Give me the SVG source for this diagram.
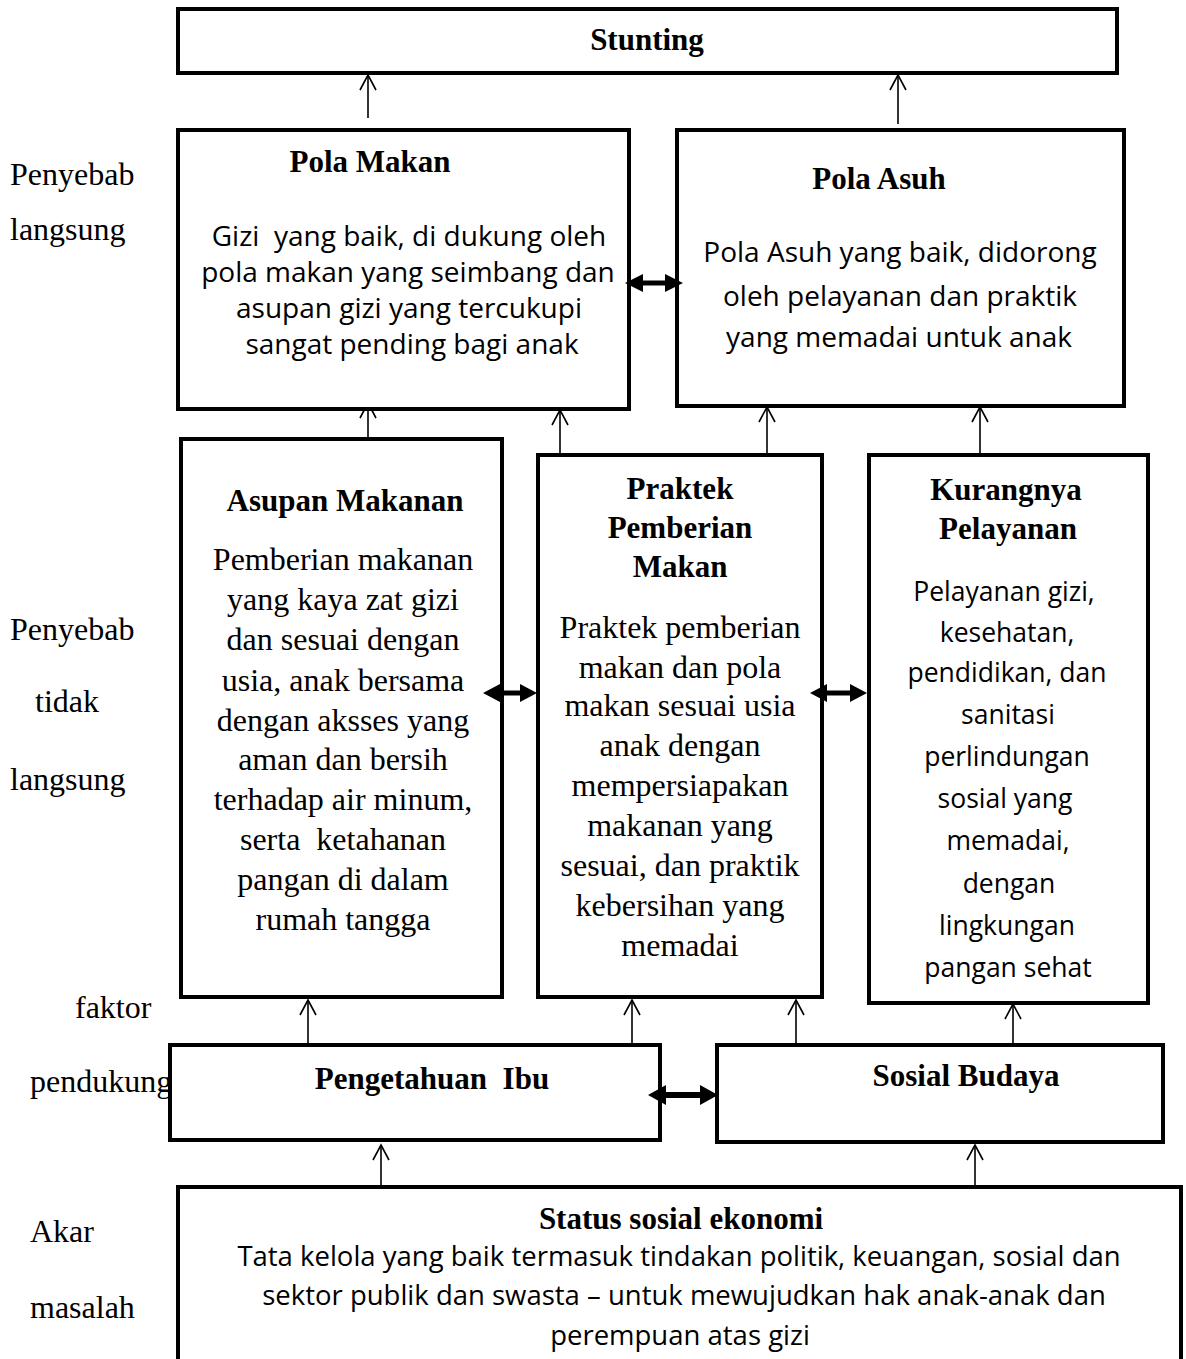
<svg xmlns="http://www.w3.org/2000/svg" width="1186" height="1359" viewBox="0 0 1186 1359">
<style>
.box{fill:#fff;stroke:#000;stroke-width:4}
.t{font-family:"Liberation Serif","Times New Roman",serif;font-weight:bold;font-size:31px;text-anchor:middle;fill:#000}
.s{font-family:"Liberation Serif","Times New Roman",serif;font-size:32px;text-anchor:middle;fill:#000}
.l{font-family:"Liberation Serif","Times New Roman",serif;font-size:32px;fill:#000}
.c{font-family:"Open Sans","Noto Sans",sans-serif;font-size:28px;text-anchor:middle;fill:#000}
.pm{font-size:28px}
.kp{font-size:26.5px}
.st{font-size:27.5px}
.thin{stroke:#000;stroke-width:1.6;fill:none;marker-end:url(#open)}
.dbl{fill:#000;stroke:none}
</style>
<defs>
<marker id="open" viewBox="-18 -10 20 20" markerWidth="20" markerHeight="20" refX="0" refY="0" orient="auto" markerUnits="userSpaceOnUse">
<path d="M-15,-8 L0,0 L-15,8" fill="none" stroke="#000" stroke-width="1.6"/>
</marker>
</defs>
<rect width="1186" height="1359" fill="#fff"/>

<g id="labels">
<text class="l" x="10" y="185">Penyebab</text>
<text class="l" x="10" y="240">langsung</text>
<text class="l" x="10" y="640">Penyebab</text>
<text class="l" x="35" y="712">tidak</text>
<text class="l" x="10" y="790">langsung</text>
<text class="l" x="75" y="1018">faktor</text>
<text class="l" x="30" y="1092">pendukung</text>
<text class="l" x="30" y="1242">Akar</text>
<text class="l" x="30" y="1318">masalah</text>
</g>

<g id="connectors">
<line class="thin" x1="368" y1="118" x2="368" y2="75"/>
<line class="thin" x1="898" y1="124" x2="898" y2="75"/>
<line class="thin" x1="368" y1="446" x2="368" y2="403"/>
<line class="thin" x1="560" y1="455" x2="560" y2="410"/>
<line class="thin" x1="767" y1="455" x2="767" y2="407"/>
<line class="thin" x1="980" y1="455" x2="980" y2="407"/>
<line class="thin" x1="308" y1="1045" x2="308" y2="1000"/>
<line class="thin" x1="632" y1="1045" x2="632" y2="1000"/>
<line class="thin" x1="796" y1="1045" x2="796" y2="1000"/>
<line class="thin" x1="1013" y1="1045" x2="1013" y2="1004"/>
<line class="thin" x1="381" y1="1187" x2="381" y2="1145"/>
<line class="thin" x1="975" y1="1187" x2="975" y2="1145"/>
</g>

<g id="stunting">
<rect class="box" x="178" y="9" width="939" height="64"/>
<text class="t" x="647" y="50">Stunting</text>
</g>

<g id="pola-makan">
<rect class="box" x="178" y="130" width="451" height="279"/>
<text class="t" x="370" y="172">Pola Makan</text>
<text class="c pm" x="409" y="246" xml:space="preserve">Gizi  yang baik, di dukung oleh</text>
<text class="c pm" x="408" y="282">pola makan yang seimbang dan</text>
<text class="c pm" x="409" y="318">asupan gizi yang tercukupi</text>
<text class="c pm" x="412" y="354">sangat pending bagi anak</text>
</g>

<g id="pola-asuh">
<rect class="box" x="677" y="130" width="447" height="276"/>
<text class="t" x="879" y="189">Pola Asuh</text>
<text class="c" x="900" y="262">Pola Asuh yang baik, didorong</text>
<text class="c" x="900" y="306">oleh pelayanan dan praktik</text>
<text class="c" x="899" y="347">yang memadai untuk anak</text>
</g>

<g id="asupan-makanan">
<rect class="box" x="181" y="439" width="321" height="558"/>
<text class="t" x="345" y="511">Asupan Makanan</text>
<text class="s" x="343" y="570">Pemberian makanan</text>
<text class="s" x="343" y="610">yang kaya zat gizi</text>
<text class="s" x="343" y="650">dan sesuai dengan</text>
<text class="s" x="343" y="691">usia, anak bersama</text>
<text class="s" x="343" y="731">dengan aksses yang</text>
<text class="s" x="343" y="770">aman dan bersih</text>
<text class="s" x="343" y="810">terhadap air minum,</text>
<text class="s" x="343" y="850" xml:space="preserve">serta  ketahanan</text>
<text class="s" x="343" y="890">pangan di dalam</text>
<text class="s" x="343" y="930">rumah tangga</text>
</g>

<g id="praktek-pemberian-makan">
<rect class="box" x="538" y="455" width="284" height="542"/>
<text class="t" x="680" y="499">Praktek</text>
<text class="t" x="680" y="538">Pemberian</text>
<text class="t" x="680" y="577">Makan</text>
<text class="s" x="680" y="638">Praktek pemberian</text>
<text class="s" x="680" y="678">makan dan pola</text>
<text class="s" x="680" y="716">makan sesuai usia</text>
<text class="s" x="680" y="756">anak dengan</text>
<text class="s" x="680" y="796">mempersiapakan</text>
<text class="s" x="680" y="836">makanan yang</text>
<text class="s" x="680" y="876">sesuai, dan praktik</text>
<text class="s" x="680" y="916">kebersihan yang</text>
<text class="s" x="680" y="956">memadai</text>
</g>

<g id="kurangnya-pelayanan">
<rect class="box" x="869" y="455" width="279" height="548"/>
<text class="t" x="1006" y="500">Kurangnya</text>
<text class="t" x="1008" y="539">Pelayanan</text>
<text class="c kp" x="1004" y="601">Pelayanan gizi,</text>
<text class="c kp" x="1007" y="642">kesehatan,</text>
<text class="c kp" x="1007" y="682">pendidikan, dan</text>
<text class="c kp" x="1008" y="724">sanitasi</text>
<text class="c kp" x="1007" y="766">perlindungan</text>
<text class="c kp" x="1005" y="808">sosial yang</text>
<text class="c kp" x="1008" y="850">memadai,</text>
<text class="c kp" x="1009" y="893">dengan</text>
<text class="c kp" x="1007" y="935">lingkungan</text>
<text class="c kp" x="1008" y="977">pangan sehat</text>
</g>

<g id="pengetahuan-ibu">
<rect class="box" x="170" y="1045" width="490" height="95"/>
<text class="t" x="432" y="1089" xml:space="preserve">Pengetahuan  Ibu</text>
</g>

<g id="sosial-budaya">
<rect class="box" x="717" y="1045" width="446" height="97"/>
<text class="t" x="966" y="1086">Sosial Budaya</text>
</g>

<g id="status-sosial-ekonomi">
<rect class="box" x="178" y="1187" width="1003" height="190"/>
<text class="t" x="681" y="1229">Status sosial ekonomi</text>
<text class="c st" x="679" y="1266">Tata kelola yang baik termasuk tindakan politik, keuangan, sosial dan</text>
<text class="c st" x="684" y="1305">sektor publik dan swasta – untuk mewujudkan hak anak-anak dan</text>
<text class="c st" x="680" y="1345">perempuan atas gizi</text>
</g>

<g id="double-connectors">
<polygon class="dbl" points="625,283 643,274 643,280.5 665,280.5 665,274 683,283 665,292 665,285.5 643,285.5 643,292"/>
<polygon class="dbl" points="483,693 500,684 500,690.5 520,690.5 520,684 537,693 520,702 520,695.5 500,695.5 500,702"/>
<polygon class="dbl" points="810,693 827,684 827,690.5 850,690.5 850,684 867,693 850,702 850,695.5 827,695.5 827,702"/>
<polygon class="dbl" points="648,1095 666,1085 666,1092 700,1092 700,1085 718,1095 700,1105 700,1098 666,1098 666,1105"/>
</g>
</svg>
